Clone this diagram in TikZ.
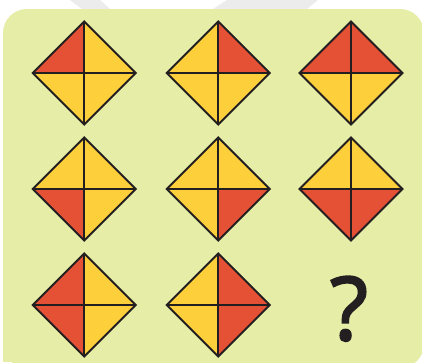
\documentclass[tikz,border=0pt]{standalone}
\usepackage{fontspec}
\setmainfont{Open Sans}
\newfontfamily\qmarkfont[FakeBold=2.2]{Open Sans}
\definecolor{bggreen}{HTML}{E6EDA7}
\definecolor{qred}{HTML}{E55135}
\definecolor{qyellow}{HTML}{FDD03B}
\definecolor{qline}{HTML}{231F20}
\definecolor{wmgray}{HTML}{ECECEC}
\tikzset{
  quadline/.style={draw=qline, line width=1.9pt, line join=miter},
  crossline/.style={draw=qline, line width=1.7pt},
}
% #1 x, #2 y, #3 TL, #4 TR, #5 BL, #6 BR
\newcommand{\quaddiamond}[6]{%
  \begin{scope}[shift={(#1,#2)}]
    \fill[#3] (0,0) -- (-51.5,0) -- (0,-51.5) -- cycle;
    \fill[#4] (0,0) -- (51.5,0) -- (0,-51.5) -- cycle;
    \fill[#5] (0,0) -- (-51.5,0) -- (0,51.5) -- cycle;
    \fill[#6] (0,0) -- (51.5,0) -- (0,51.5) -- cycle;
    \draw[crossline] (-51.5,0) -- (51.5,0) (0,-51.5) -- (0,51.5);
    \draw[quadline] (-51.5,0) -- (0,-51.5) -- (51.5,0) -- (0,51.5) -- cycle;
  \end{scope}}
\begin{document}
\begin{tikzpicture}[x=1pt,y=-1pt]
  \useasboundingbox (0,0) rectangle (422,362);
  \fill[white] (0,0) rectangle (422,362);
  % faint watermark bands
  \fill[wmgray] (70,0) -- (100,0) -- (110,9) -- (82,9) -- cycle;
  \fill[wmgray] (227,0) -- (318,0) -- (307,9) -- (213,9) -- cycle;
  % background panel
  \fill[bggreen, rounded corners=24pt] (3,9) rectangle (424,368);
  \fill[bggreen] (3,320) rectangle (60,362);
  % diamonds
  \quaddiamond{84.3}{73}{qred}{qyellow}{qyellow}{qyellow}
  \quaddiamond{218.3}{73}{qyellow}{qred}{qyellow}{qyellow}
  \quaddiamond{351}{73}{qred}{qred}{qyellow}{qyellow}
  \quaddiamond{84.3}{189}{qyellow}{qyellow}{qred}{qyellow}
  \quaddiamond{218.3}{189}{qyellow}{qyellow}{qyellow}{qred}
  \quaddiamond{351}{189}{qyellow}{qyellow}{qred}{qred}
  \quaddiamond{84.3}{305}{qred}{qyellow}{qred}{qyellow}
  \quaddiamond{218.3}{305}{qyellow}{qred}{qyellow}{qred}
  \node[anchor=base, inner sep=0pt, text=qline, font=\qmarkfont\fontsize{88}{88}\selectfont] (qmark) at (349,340) {?};
\end{tikzpicture}
\end{document}
